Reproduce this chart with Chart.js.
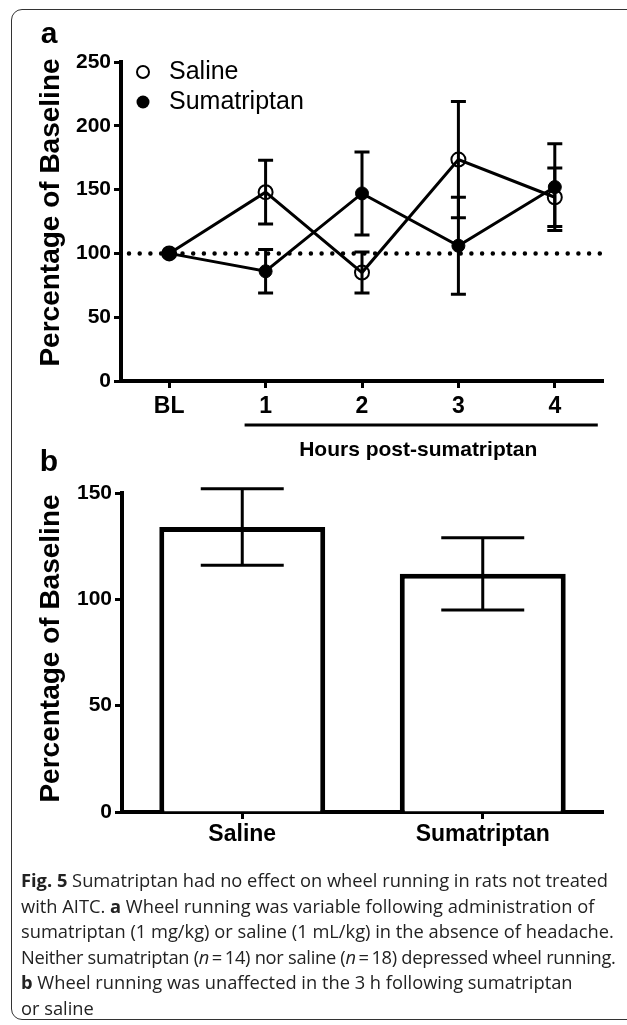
<!DOCTYPE html>
<html>
<head>
<meta charset="utf-8">
<script src="https://cdn.jsdelivr.net/npm/chart.js@4.4.1/dist/chart.umd.min.js"></script>
<style>
  html, body { margin: 0; padding: 0; background: #fff; }
  body { width: 627px; height: 1025px; position: relative; overflow: hidden; }
  .frame { position: absolute; left: 11px; top: 9px; width: 640px; height: 1011px;
           border: 1.5px solid #333; border-radius: 11px; box-sizing: border-box; }
  #chartA { position: absolute; left: 0; top: 0; }
  #chartB { position: absolute; left: 0; top: 440px; }
  .caption { position: absolute; left: 21px; top: 867px; font-family: 'Open Sans', sans-serif;
             font-size: 18.3px; line-height: 25.6px; color: #222; white-space: nowrap; }
  .tight { letter-spacing: -0.28px; }
</style>
</head>
<body>
<div class="frame"></div>
<canvas id="chartA" width="627" height="470"></canvas>
<canvas id="chartB" width="627" height="420"></canvas>
<div class="caption">
<b>Fig. 5</b> Sumatriptan had no effect on wheel running in rats not treated<br>
with AITC. <b>a</b> Wheel running was variable following administration of<br>
sumatriptan (1 mg/kg) or saline (1 mL/kg) in the absence of headache.<br>
<span class="tight">Neither sumatriptan (<i>n</i>&#8201;=&#8201;14) nor saline (<i>n</i>&#8201;=&#8201;18) depressed wheel running.</span><br>
<b>b</b> Wheel running was unaffected in the 3 h following sumatriptan<br>
or saline
</div>
<script>
// panel a - time course
const hourLabels = ['BL', '1', '2', '3', '4'];
const salineMean = [100, 148, 85, 173.5, 144];
const salineSem  = [0, 25, 16, 45.5, 23];
const sumaMean   = [100, 86, 147, 106, 152];
const sumaSem    = [0, 17, 32.5, 38, 34];
const baselineLevel = 100;
const yTicksA = [0, 50, 100, 150, 200, 250];

// panel b - 3 h totals
const groupLabels = ['Saline', 'Sumatriptan'];
const groupMean = [134, 112];
const groupSem  = [18, 17];
const yTicksB = [0, 50, 100, 150];

const bold = "'Liberation Sans', Arial, sans-serif";
const yTickFont = { family: bold, weight: 'bold', size: 21 };
const xTickFont = { family: bold, weight: 'bold', size: 23 };
const titleFont = "bold 28px 'Liberation Sans', Arial, sans-serif";

function axisStyle(font, pad) {
  return {
    grid: { display: true, drawOnChartArea: false, offset: false, tickLength: 7, tickWidth: 3, tickColor: '#000' },
    border: { display: true, color: '#000', width: 4 },
    ticks: { color: '#000', font, padding: pad, maxRotation: 0, autoSkip: false }
  };
}

function drawYTitle(ctx, chart, shift) {
  const { top, bottom } = chart.chartArea;
  ctx.save();
  ctx.translate(59, (top + bottom) / 2 + shift);
  ctx.rotate(-Math.PI / 2);
  ctx.font = titleFont;
  ctx.fillStyle = '#000';
  ctx.textAlign = 'center';
  ctx.textBaseline = 'alphabetic';
  ctx.fillText('Percentage of Baseline', 0, 0);
  ctx.restore();
}

function drawErr(ctx, x, yTop, yBot, half) {
  ctx.beginPath();
  ctx.moveTo(x, yTop); ctx.lineTo(x, yBot);
  ctx.moveTo(x - half, yTop); ctx.lineTo(x + half, yTop);
  ctx.moveTo(x - half, yBot); ctx.lineTo(x + half, yBot);
  ctx.stroke();
}

const panelA = {
  id: 'panelA',
  beforeDatasetsDraw(chart) {
    const { ctx, chartArea, scales: { y } } = chart;
    const yb = y.getPixelForValue(baselineLevel);
    ctx.save();
    ctx.strokeStyle = '#000';
    ctx.lineWidth = 4.5;
    ctx.lineCap = 'round';
    ctx.setLineDash([0, 10.7]);
    ctx.beginPath();
    ctx.moveTo(chartArea.left + 8, yb);
    ctx.lineTo(chartArea.right + 2, yb);
    ctx.stroke();
    ctx.restore();
  },
  afterDatasetsDraw(chart) {
    const { ctx, scales: { x, y } } = chart;
    ctx.save();
    ctx.strokeStyle = '#000';
    ctx.lineWidth = 3;
    [[salineMean, salineSem], [sumaMean, sumaSem]].forEach(([m, e]) => {
      m.forEach((v, i) => {
        if (!e[i]) return;
        drawErr(ctx, x.getPixelForValue(i), y.getPixelForValue(v + e[i]), y.getPixelForValue(v - e[i]), 7.5);
      });
    });
    ctx.restore();
  },
  afterDraw(chart) {
    const { ctx, chartArea, scales: { x } } = chart;
    ctx.save();
    // legend
    ctx.strokeStyle = '#000';
    ctx.fillStyle = '#000';
    ctx.lineWidth = 2;
    ctx.beginPath(); ctx.arc(143, 72, 6, 0, Math.PI * 2); ctx.stroke();
    ctx.beginPath(); ctx.arc(143, 102, 6.5, 0, Math.PI * 2); ctx.fill();
    ctx.font = "25px 'Liberation Sans', Arial, sans-serif";
    ctx.textBaseline = 'middle';
    ctx.fillText('Saline', 169, 72);
    ctx.fillText('Sumatriptan', 169, 102);

    // post-drug bracket
    const x1 = x.getPixelForValue(1) - 21;
    const x2 = x.getPixelForValue(4) + 43;
    const yl = chartArea.bottom + 44;
    ctx.lineWidth = 3;
    ctx.beginPath(); ctx.moveTo(x1, yl); ctx.lineTo(x2, yl); ctx.stroke();
    ctx.font = "bold 21px 'Liberation Sans', Arial, sans-serif";
    ctx.textAlign = 'center';
    ctx.fillText('Hours post-sumatriptan', (x1 + x2) / 2 - 3, yl + 25);

    // panel letter
    ctx.font = "bold 30px 'Liberation Sans', Arial, sans-serif";
    ctx.textAlign = 'center';
    ctx.fillText('a', 49, 35);
    ctx.restore();
    drawYTitle(ctx, chart, -9);
  }
};

const panelB = {
  id: 'panelB',
  afterDatasetsDraw(chart) {
    const { ctx, scales: { y } } = chart;
    const meta = chart.getDatasetMeta(0);
    ctx.save();
    ctx.strokeStyle = '#000';
    ctx.lineWidth = 3;
    meta.data.forEach((bar, i) => {
      const v = groupMean[i], e = groupSem[i];
      drawErr(ctx, bar.x, y.getPixelForValue(v + e), y.getPixelForValue(v - e), bar.width / 4);
    });
    ctx.fillStyle = '#000';
    ctx.font = "bold 30px 'Liberation Sans', Arial, sans-serif";
    ctx.textAlign = 'center';
    ctx.textBaseline = 'middle';
    ctx.fillText('b', 49, 23);
    ctx.restore();
    drawYTitle(ctx, chart, -4);
  }
};

const yA = axisStyle(yTickFont, 3);
const xA = axisStyle(xTickFont, 5);
new Chart(document.getElementById('chartA'), {
  type: 'line',
  data: {
    labels: hourLabels,
    datasets: [
      { label: 'Saline', data: salineMean, borderColor: '#000', borderWidth: 3,
        pointRadius: 7, pointBorderWidth: 2, pointBorderColor: '#000',
        pointBackgroundColor: 'rgba(255,255,255,0)' },
      { label: 'Sumatriptan', data: sumaMean, borderColor: '#000', borderWidth: 3,
        pointRadius: 6.5, pointBorderWidth: 1, pointBorderColor: '#000',
        pointBackgroundColor: '#000' }
    ]
  },
  options: {
    responsive: false,
    animation: false,
    layout: { padding: { top: 62, right: 24, left: 0, bottom: 0 } },
    plugins: { legend: { display: false }, tooltip: { enabled: false } },
    scales: {
      x: { ...xA, type: 'category', offset: true, afterFit: s => { s.height = 89; } },
      y: { ...yA, min: yTicksA[0], max: yTicksA[yTicksA.length - 1],
           afterBuildTicks: s => { s.ticks = yTicksA.map(v => ({ value: v })); },
           afterFit: s => { s.width = 121; } }
    }
  },
  plugins: [panelA]
});

const yB = axisStyle(yTickFont, 3);
const xB = axisStyle(xTickFont, 2);
new Chart(document.getElementById('chartB'), {
  type: 'bar',
  data: {
    labels: groupLabels,
    datasets: [{ data: groupMean, backgroundColor: '#fff', borderColor: '#000', borderWidth: 5,
                 categoryPercentage: 1, barPercentage: 0.69 }]
  },
  options: {
    responsive: false,
    animation: false,
    layout: { padding: { top: 53, right: 24, left: 0, bottom: 0 } },
    plugins: { legend: { display: false }, tooltip: { enabled: false } },
    scales: {
      x: { ...xB, afterFit: s => { s.height = 48; } },
      y: { ...yB, min: yTicksB[0], max: yTicksB[yTicksB.length - 1],
           afterBuildTicks: s => { s.ticks = yTicksB.map(v => ({ value: v })); },
           afterFit: s => { s.width = 122; } }
    }
  },
  plugins: [panelB]
});
</script>
</body>
</html>
